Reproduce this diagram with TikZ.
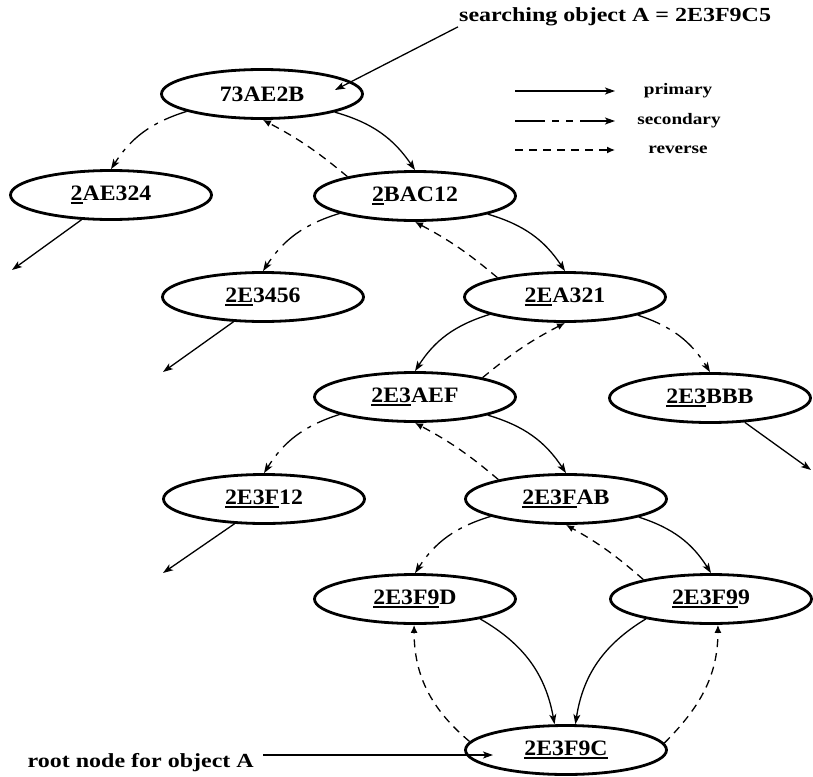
\documentclass[tikz,border=0pt]{standalone}
\usepackage{fontspec}
\setmainfont{Liberation Serif}
\newfontfamily\peerfont[FakeStretch=1.08]{Liberation Serif}
\newfontfamily\notefont[FakeStretch=1.2]{Liberation Serif}
\usetikzlibrary{shapes.geometric,arrows.meta}
% underline the matched prefix of an identifier
\newcommand\upfx[1]{\sbox0{#1}\rlap{\rule[-3pt]{\wd0}{1.4pt}}\usebox0}
\begin{document}
\begin{tikzpicture}[x=1pt,y=1pt,
  peer/.style={ellipse,draw,line width=2.8pt,minimum width=201pt,minimum height=49pt,
    inner sep=0pt,font=\peerfont\bfseries\fontsize{22}{24}\selectfont},
  note/.style={inner sep=1pt,font=\notefont\bfseries\fontsize{20}{22}\selectfont},
  legendtext/.style={inner sep=1pt,font=\notefont\bfseries\fontsize{16}{18}\selectfont},
  edge/.style={line width=1.3pt},
  primary/.style={edge,-{Stealth[length=10pt,width=7pt,inset=2.5pt]}},
  secondary/.style={primary,dash pattern=on 24pt off 7pt on 4pt off 7pt},
  secondarykey/.style={primary,dash pattern=on 30pt off 7pt on 7pt off 7pt on 7pt off 7pt on 60pt},
  reverse/.style={edge,dash pattern=on 8pt off 6pt,-{Latex[length=8pt,width=7pt]}}]
\useasboundingbox (0,0) rectangle (813,-776);

% peers
\node[peer] (n73)   at (262,-94)  {73AE2B};
\node[peer] (n2ae)  at (111,-195) {\upfx{2}AE324};
\node[peer] (n2bac) at (415,-196) {\upfx{2}BAC12};
\node[peer] (n2e34) at (263,-297) {\upfx{2E}3456};
\node[peer] (n2ea)  at (565,-297) {\upfx{2E}A321};
\node[peer] (n3ae)  at (415,-397) {\upfx{2E3}AEF};
\node[peer] (n3bb)  at (710,-398) {\upfx{2E3}BBB};
\node[peer] (nf12)  at (264,-499) {\upfx{2E3F}12};
\node[peer] (nfab)  at (566,-499) {\upfx{2E3F}AB};
\node[peer] (n9d)   at (415,-599) {\upfx{2E3F9}D};
\node[peer] (n99)   at (711,-599) {\upfx{2E3F9}9};
\node[peer] (n9c)   at (566,-750) {\upfx{2E3F9C}};

% free ends of outgoing links
\coordinate (o1) at (12,-270);
\coordinate (o2) at (163,-372);
\coordinate (o3) at (163,-573);
\coordinate (o4) at (811,-470);

% routing tree
\draw[secondary] (n73.193) to[bend right=20] (n2ae.north);
\draw[primary]   (n73.-14) to[bend left=20] (n2bac.north);
\draw[reverse]   (n2bac.164) to[bend right=6] (n73.-88);
\draw[primary]   (n2ae.-140) -- (o1);

\draw[secondary] (n2bac.193) to[bend right=20] (n2e34.north);
\draw[primary]   (n2bac.-14) to[bend left=20] (n2ea.north);
\draw[reverse]   (n2ea.164) to[bend right=6] (n2bac.-90);
\draw[primary]   (n2e34.-140) -- (o2);

\draw[primary]   (n2ea.193) to[bend right=20] (n3ae.north);
\draw[reverse]   (n3ae.16) to[bend left=6] (n2ea.-90);
\draw[secondary] (n2ea.-14) to[bend left=20] (n3bb.north);
\draw[primary]   (n3bb.-35) -- (o4);

\draw[secondary] (n3ae.193) to[bend right=20] (nf12.north);
\draw[primary]   (n3ae.-14) to[bend left=20] (nfab.north);
\draw[reverse]   (nfab.164) to[bend right=6] (n3ae.-90);
\draw[primary]   (nf12.-140) -- (o3);

\draw[secondary] (nfab.193) to[bend right=20] (n9d.north);
\draw[primary]   (nfab.-14) to[bend left=20] (n99.north);
\draw[reverse]   (n99.164) to[bend right=6] (nfab.-90);

\draw[primary]   (n9d.-17) to[bend left=25] (n9c.114);
\draw[primary]   (n99.197) to[bend right=25] (n9c.70);
\draw[reverse]   (n9c.175) to[out=140,in=-90] (n9d.-92);
\draw[reverse]   (n9c.4) to[out=45,in=-90] (n99.-75);

% annotations
\node[note,anchor=west] (search) at (458,-16.5) {searching object A = 2E3F9C5};
\coordinate (searchtip) at (335,-90);
\draw[primary] (search.south west) -- (searchtip);

\node[note,anchor=east,inner xsep=9pt] (rootlbl) at (263,-762.4) {root node for object A};
\coordinate (roottip) at (493,-755);
\draw[primary] (rootlbl.east |- roottip) -- (roottip);

% key
\coordinate (ka1) at (515,-91);  \coordinate (ka2) at (615,-91);
\coordinate (kb1) at (515,-121); \coordinate (kb2) at (615,-121);
\coordinate (kc1) at (515,-150); \coordinate (kc2) at (615,-150);
\draw[primary] (ka1) -- (ka2);
\draw[secondarykey] (kb1) -- (kb2);
\draw[reverse] (kc1) -- (kc2);
\node[legendtext] (kpri) at (678,-91)  {primary};
\node[legendtext] (ksec) at (679,-121) {secondary};
\node[legendtext] (krev) at (678,-150) {reverse};
\end{tikzpicture}
\end{document}
